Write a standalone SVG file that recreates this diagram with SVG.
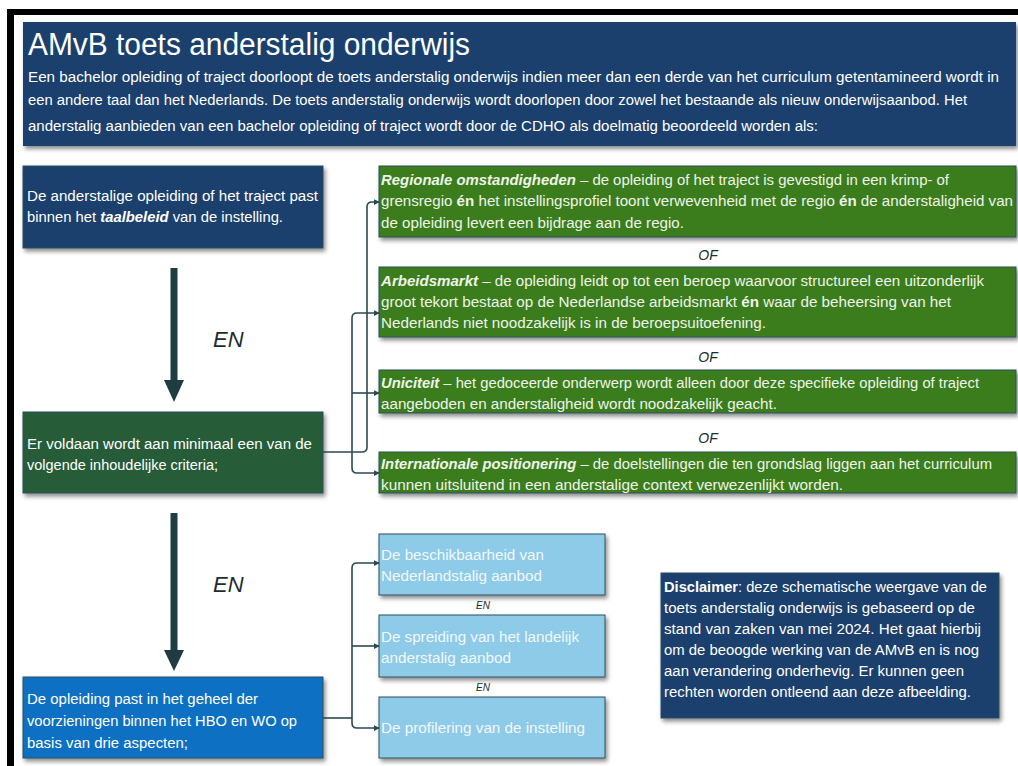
<svg xmlns="http://www.w3.org/2000/svg" width="1018" height="766" viewBox="0 0 1018 766">
<defs>
<filter id="sh" x="-5%" y="-10%" width="115%" height="130%">
<feDropShadow dx="2" dy="3" stdDeviation="2" flood-color="#000" flood-opacity="0.45"/>
</filter>
<marker id="ah" viewBox="0 0 8 8" refX="7" refY="4" markerWidth="6" markerHeight="6" orient="auto" markerUnits="userSpaceOnUse">
<path d="M0,0 L8,4 L0,8 Z" fill="#2b4a50"/>
</marker>
<style>
text{font-family:"Liberation Sans Narrow","Liberation Sans",Arial,sans-serif;}
.t{fill:#ffffff;font-size:14px;}
.g{fill:#eef4ea;font-size:14px;}
.lb{fill:#f2f8fc;font-size:14px;}
.bi{font-weight:bold;font-style:italic;}
.b{font-weight:bold;}
.of{fill:#1d2d2d;font-size:14px;font-style:italic;text-anchor:middle;}
.en{fill:#1d2d2d;font-size:22px;font-style:italic;}
.sen{fill:#1d2d2d;font-size:10px;font-style:italic;text-anchor:middle;}
.box{stroke:#2e4e5c;stroke-width:1;filter:url(#sh);}
.navy{fill:#1a3f6d;}
.dg{fill:#285b39;}
.gr{fill:#3b7d1a;}
.bl{fill:#1170c2;}
.lbl{fill:#8ecbe8;}
.con{fill:none;stroke:#2b4a50;stroke-width:1.6;}
.big{fill:#1f3d40;}
</style>
</defs>
<rect x="0" y="0" width="1018" height="766" fill="#ffffff"/>
<rect x="7" y="9" width="1011" height="6" fill="#000"/>
<rect x="7" y="9" width="7" height="757" fill="#000"/>

<g id="header">
<rect class="navy" x="23" y="22" width="993" height="124" style="filter:url(#sh)"/>
<text x="28" y="55" fill="#fff" font-size="31" textLength="442" lengthAdjust="spacingAndGlyphs">AMvB toets anderstalig onderwijs</text>
<text class="t" x="28" y="82" textLength="971" lengthAdjust="spacingAndGlyphs">Een bachelor opleiding of traject doorloopt de toets anderstalig onderwijs indien meer dan een derde van het curriculum getentamineerd wordt in</text>
<text class="t" x="28" y="105" textLength="939" lengthAdjust="spacingAndGlyphs">een andere taal dan het Nederlands. De toets anderstalig onderwijs wordt doorlopen door zowel het bestaande als nieuw onderwijsaanbod. Het</text>
<text class="t" x="28" y="131" textLength="790" lengthAdjust="spacingAndGlyphs">anderstalig aanbieden van een bachelor opleiding of traject wordt door de CDHO als doelmatig beoordeeld worden als:</text>
</g>

<g id="taalbeleid">
<rect class="box navy" x="23" y="166" width="300" height="82"/>
<text class="t" x="27" y="201" textLength="291" lengthAdjust="spacingAndGlyphs">De anderstalige opleiding of het traject past</text>
<text class="t" x="27" y="222" textLength="256" lengthAdjust="spacingAndGlyphs">binnen het <tspan class="bi">taalbeleid</tspan> van de instelling.</text>
</g>

<g id="arrow1">
<rect class="big" x="170.5" y="268" width="7" height="114"/>
<polygon class="big" points="164,380 184,380 174,402"/>
<text class="en" x="213" y="347">EN</text>
</g>

<g id="criteria">
<rect class="box dg" x="23" y="412" width="300" height="81"/>
<text class="t" x="27" y="449" textLength="285" lengthAdjust="spacingAndGlyphs">Er voldaan wordt aan minimaal een van de</text>
<text class="t" x="27" y="470" textLength="191" lengthAdjust="spacingAndGlyphs">volgende inhoudelijke criteria;</text>
</g>

<g id="regionaal">
<rect class="box gr" x="379" y="166" width="637" height="71"/>
<text class="g" x="381" y="185" textLength="568" lengthAdjust="spacingAndGlyphs"><tspan class="bi">Regionale omstandigheden</tspan> –  de opleiding of het traject is gevestigd in een krimp- of</text>
<text class="g" x="381" y="206" textLength="632" lengthAdjust="spacingAndGlyphs">grensregio <tspan class="b">én</tspan> het instellingsprofiel toont verwevenheid met de regio <tspan class="b">én</tspan> de anderstaligheid van</text>
<text class="g" x="381" y="228" textLength="303" lengthAdjust="spacingAndGlyphs">de opleiding levert een bijdrage aan de regio.</text>
</g>
<text class="of" x="708" y="260">OF</text>

<g id="arbeidsmarkt">
<rect class="box gr" x="379" y="267" width="637" height="70"/>
<text class="g" x="381" y="286" textLength="603" lengthAdjust="spacingAndGlyphs"><tspan class="bi">Arbeidsmarkt</tspan> – de opleiding leidt op tot een beroep waarvoor structureel een uitzonderlijk</text>
<text class="g" x="381" y="307" textLength="570" lengthAdjust="spacingAndGlyphs">groot tekort bestaat op de Nederlandse arbeidsmarkt <tspan class="b">én</tspan> waar de beheersing van het</text>
<text class="g" x="381" y="328" textLength="385" lengthAdjust="spacingAndGlyphs">Nederlands niet noodzakelijk is in de beroepsuitoefening.</text>
</g>
<text class="of" x="708" y="362">OF</text>

<g id="uniciteit">
<rect class="box gr" x="379" y="370" width="637" height="43"/>
<text class="g" x="381" y="388" textLength="598" lengthAdjust="spacingAndGlyphs"><tspan class="bi">Uniciteit</tspan> – het gedoceerde onderwerp wordt alleen door deze specifieke opleiding of traject</text>
<text class="g" x="381" y="409" textLength="396" lengthAdjust="spacingAndGlyphs">aangeboden en anderstaligheid wordt noodzakelijk geacht.</text>
</g>
<text class="of" x="708" y="443">OF</text>

<g id="internationaal">
<rect class="box gr" x="379" y="452" width="637" height="41"/>
<text class="g" x="381" y="469" textLength="611" lengthAdjust="spacingAndGlyphs"><tspan class="bi">Internationale positionering</tspan> – de doelstellingen die ten grondslag liggen aan het curriculum</text>
<text class="g" x="381" y="490" textLength="462" lengthAdjust="spacingAndGlyphs">kunnen uitsluitend in een anderstalige context verwezenlijkt worden.</text>
</g>

<g id="arrow2">
<rect class="big" x="170.5" y="513" width="7" height="139"/>
<polygon class="big" points="164,650 184,650 174,671"/>
<text class="en" x="213" y="592">EN</text>
</g>

<g id="voorzieningen">
<rect class="box bl" x="23" y="677" width="300" height="81"/>
<text class="t" x="27" y="704" textLength="231" lengthAdjust="spacingAndGlyphs">De opleiding past in het geheel der</text>
<text class="t" x="27" y="726" textLength="270" lengthAdjust="spacingAndGlyphs">voorzieningen binnen het HBO en WO op</text>
<text class="t" x="27" y="748" textLength="161" lengthAdjust="spacingAndGlyphs">basis van drie aspecten;</text>
</g>

<g id="beschikbaarheid">
<rect class="box lbl" x="379" y="534" width="226" height="61"/>
<text class="lb" x="381" y="560" textLength="163" lengthAdjust="spacingAndGlyphs">De beschikbaarheid van</text>
<text class="lb" x="381" y="581" textLength="161" lengthAdjust="spacingAndGlyphs">Nederlandstalig aanbod</text>
</g>
<text class="sen" x="483" y="609">EN</text>

<g id="spreiding">
<rect class="box lbl" x="379" y="615" width="226" height="62"/>
<text class="lb" x="381" y="642" textLength="198" lengthAdjust="spacingAndGlyphs">De spreiding van het landelijk</text>
<text class="lb" x="381" y="663" textLength="130" lengthAdjust="spacingAndGlyphs">anderstalig aanbod</text>
</g>
<text class="sen" x="483" y="691">EN</text>

<g id="profilering">
<rect class="box lbl" x="379" y="697" width="226" height="61"/>
<text class="lb" x="381" y="733" textLength="204" lengthAdjust="spacingAndGlyphs">De profilering van de instelling</text>
</g>

<g id="disclaimer">
<rect class="box navy" x="661" y="573" width="338" height="145"/>
<text class="t" x="664" y="592" textLength="323" lengthAdjust="spacingAndGlyphs"><tspan class="b">Disclaimer</tspan>: deze schematische weergave van de</text>
<text class="t" x="664" y="613" textLength="311" lengthAdjust="spacingAndGlyphs">toets anderstalig onderwijs is gebaseerd op de</text>
<text class="t" x="664" y="634" textLength="317" lengthAdjust="spacingAndGlyphs">stand van zaken van mei 2024. Het gaat hierbij</text>
<text class="t" x="664" y="655" textLength="315" lengthAdjust="spacingAndGlyphs">om de beoogde werking van de AMvB en is nog</text>
<text class="t" x="664" y="676" textLength="300" lengthAdjust="spacingAndGlyphs">aan verandering onderhevig. Er kunnen geen</text>
<text class="t" x="664" y="697" textLength="307" lengthAdjust="spacingAndGlyphs">rechten worden ontleend aan deze afbeelding.</text>
</g>

<g id="connectors">
<path class="con" marker-end="url(#ah)" d="M323,452 H362 Q367,452 367,447 V207 Q367,202 372,202 H379"/>
<path class="con" marker-end="url(#ah)" d="M352,393 V318 Q352,313 357,313 H379"/>
<path class="con" marker-end="url(#ah)" d="M352,393 H379"/>
<path class="con" marker-end="url(#ah)" d="M352,393 V468 Q352,473 357,473 H379"/>
<path class="con" d="M323,718 H352"/>
<path class="con" marker-end="url(#ah)" d="M352,646 V568 Q352,563 357,563 H379"/>
<path class="con" marker-end="url(#ah)" d="M352,646 H379"/>
<path class="con" marker-end="url(#ah)" d="M352,646 V723 Q352,728 357,728 H379"/>
</g>
</svg>
